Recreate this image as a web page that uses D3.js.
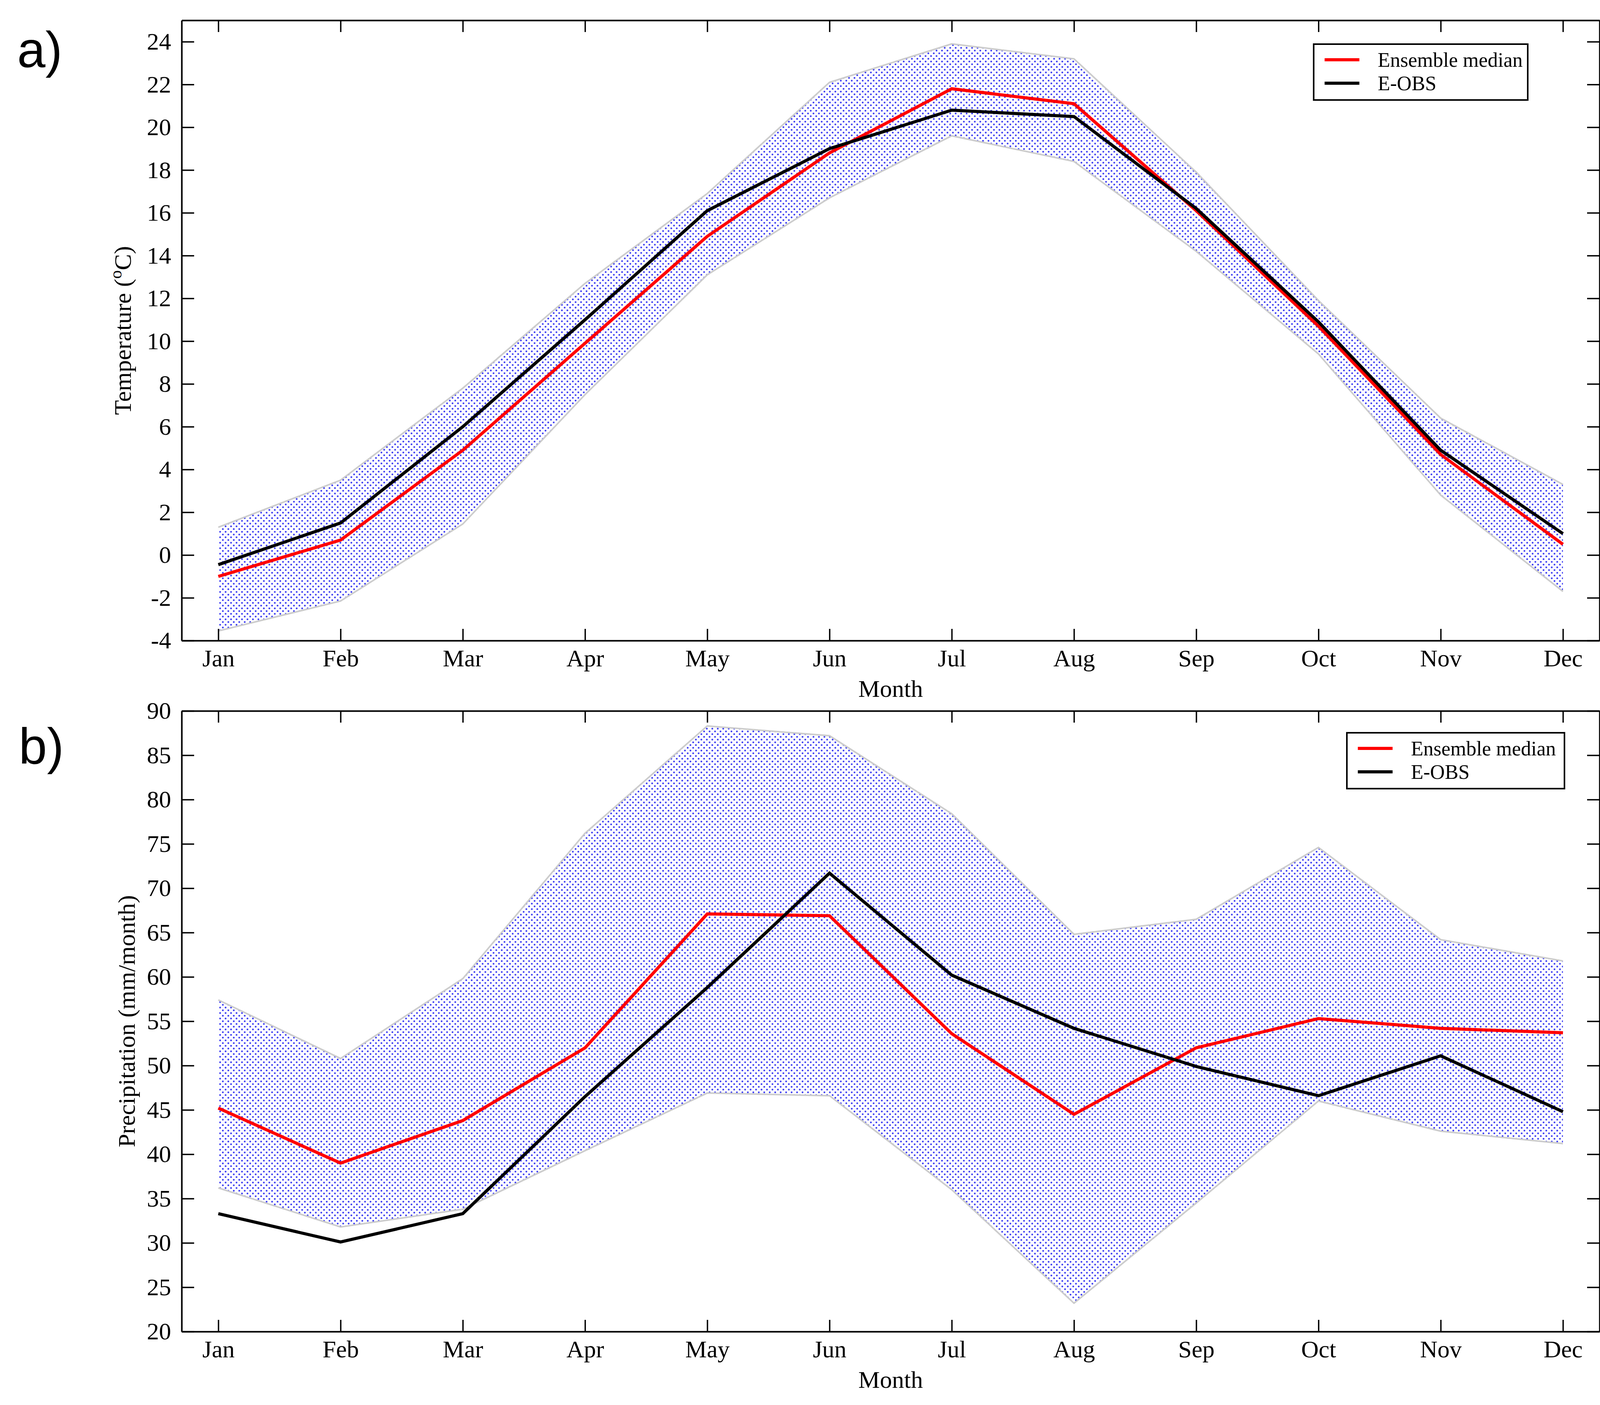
<!DOCTYPE html>
<html>
<head>
<meta charset="utf-8">
<script src="https://cdn.jsdelivr.net/npm/d3@7"></script>
<style>
    html, body { margin: 0; padding: 0; background: #ffffff; }
    svg { display: block; }
</style>
</head>
<body>
<svg id="chart" width="4148" height="3597"></svg>
<script>
// month categories
const months = ["Jan", "Feb", "Mar", "Apr", "May", "Jun", "Jul", "Aug", "Sep", "Oct", "Nov", "Dec"];

// a) temperature (oC)
const tempMedian = [-1.0, 0.7, 4.9, 9.9, 14.9, 18.8, 21.8, 21.1, 16.1, 10.7, 4.7, 0.5];
const tempEobs = [-0.45, 1.5, 6.0, 11.0, 16.1, 19.0, 20.8, 20.5, 16.2, 10.9, 4.9, 1.0];
const tempUpper = [1.3, 3.5, 7.8, 12.7, 16.9, 22.1, 23.9, 23.2, 17.9, 11.9, 6.4, 3.3];
const tempLower = [-3.55, -2.15, 1.45, 7.5, 13.1, 16.7, 19.6, 18.4, 14.2, 9.4, 2.8, -1.7];
const tempTicks = [-4, -2, 0, 2, 4, 6, 8, 10, 12, 14, 16, 18, 20, 22, 24];

// b) precipitation (mm/month)
const precMedian = [45.2, 39.0, 43.8, 52.0, 67.1, 66.9, 53.6, 44.5, 52.0, 55.3, 54.2, 53.7];
const precEobs = [33.3, 30.1, 33.3, 46.5, 58.8, 71.7, 60.2, 54.2, 49.9, 46.6, 51.1, 44.8];
const precUpper = [57.4, 50.8, 59.8, 76.2, 88.3, 87.2, 78.4, 64.8, 66.5, 74.6, 64.2, 61.8];
const precLower = [36.2, 31.8, 33.8, 40.4, 46.9, 46.6, 36.0, 23.2, 34.5, 46.0, 42.6, 41.2];
const precTicks = [20, 25, 30, 35, 40, 45, 50, 55, 60, 65, 70, 75, 80, 85, 90];

const seriesNames = ["Ensemble median", "E-OBS"];
const seriesColors = ["#ff0000", "#000000"];

const serif = "'Liberation Serif', 'Times New Roman', serif";
const sans = "'Liberation Sans', Arial, sans-serif";
const dotColor = "#3a3af2";
const edgeColor = "#cccccc";

const svg = d3.select("#chart");
const defs = svg.append("defs");

// dotted fill of the ensemble spread
const pattern = defs.append("pattern")
    .attr("id", "dots")
    .attr("width", 14)
    .attr("height", 14)
    .attr("patternUnits", "userSpaceOnUse");
pattern.selectAll("circle")
    .data([[3.5, 3.5], [10.5, 10.5]])
    .join("circle")
    .attr("cx", d => d[0])
    .attr("cy", d => d[1])
    .attr("r", 2.3)
    .attr("fill", dotColor);

const plotLeft = 465;
const plotRight = 4095;

const x = d3.scaleLinear()
    .domain([0.7, 12.3])
    .range([plotLeft, plotRight]);

function styleAxis(g) {
    g.attr("font-family", serif).attr("font-size", 62);
    g.selectAll("text").attr("fill", "#000");
    g.select(".domain").attr("stroke", "#000").attr("stroke-width", 4);
    g.selectAll(".tick line").attr("stroke", "#000").attr("stroke-width", 3.5);
}

function drawPanel(cfg) {
    const y = d3.scaleLinear()
        .domain(cfg.domain)
        .range([cfg.bottom, cfg.top]);
    const g = svg.append("g");

    // spread band
    const area = d3.area()
        .x((_d, i) => x(i + 1))
        .y0(d => y(d[0]))
        .y1(d => y(d[1]));
    const bandData = cfg.lower.map((v, i) => [v, cfg.upper[i]]);
    g.append("path")
        .datum(bandData)
        .attr("d", area)
        .attr("fill", "url(#dots)");

    const line = d3.line()
        .x((_d, i) => x(i + 1))
        .y(d => y(d));
    [cfg.upper, cfg.lower].forEach(edge => {
        g.append("path")
            .datum(edge)
            .attr("d", line)
            .attr("fill", "none")
            .attr("stroke", edgeColor)
            .attr("stroke-width", 4);
    });

    // median and observations
    [cfg.median, cfg.eobs].forEach((values, i) => {
        g.append("path")
            .datum(values)
            .attr("d", line)
            .attr("fill", "none")
            .attr("stroke", seriesColors[i])
            .attr("stroke-width", 8)
            .attr("stroke-linejoin", "miter");
    });

    // frame with inward ticks on all sides
    const monthTicks = months.map((_m, i) => i + 1);
    g.append("g")
        .attr("transform", `translate(0,${cfg.bottom})`)
        .call(d3.axisBottom(x).tickValues(monthTicks).tickFormat(d => months[d - 1])
            .tickSizeInner(-30).tickSizeOuter(0).tickPadding(22))
        .call(styleAxis);
    g.append("g")
        .attr("transform", `translate(0,${cfg.top})`)
        .call(d3.axisTop(x).tickValues(monthTicks).tickFormat("")
            .tickSizeInner(-30).tickSizeOuter(0))
        .call(styleAxis);
    g.append("g")
        .attr("transform", `translate(${plotLeft},0)`)
        .call(d3.axisLeft(y).tickValues(cfg.ticks).tickFormat(d => String(d))
            .tickSizeInner(-32).tickSizeOuter(0).tickPadding(27))
        .call(styleAxis);
    g.append("g")
        .attr("transform", `translate(${plotRight},0)`)
        .call(d3.axisRight(y).tickValues(cfg.ticks).tickFormat("")
            .tickSizeInner(-32).tickSizeOuter(0))
        .call(styleAxis);

    // axis titles
    g.append("text")
        .attr("x", (plotLeft + plotRight) / 2)
        .attr("y", cfg.bottom + 144)
        .attr("text-anchor", "middle")
        .attr("font-family", serif)
        .attr("font-size", 62)
        .text("Month");

    const yTitle = g.append("text")
        .attr("transform", `translate(${cfg.yTitleX},${(cfg.top + cfg.bottom) / 2}) rotate(-90)`)
        .attr("text-anchor", "middle")
        .attr("font-family", serif)
        .attr("font-size", 62);
    cfg.yTitle.forEach(part => {
        const t = yTitle.append("tspan").text(part.text);
        if (part.sup) {
            t.attr("baseline-shift", "super").attr("font-size", 44);
        }
    });

    // panel letter
    g.append("text")
        .attr("x", cfg.letterX)
        .attr("y", cfg.letterY)
        .attr("font-family", sans)
        .attr("font-size", 130)
        .text(cfg.letter);

    // legend
    const legend = g.append("g")
        .attr("transform", `translate(${cfg.legendX},${cfg.legendY})`);
    legend.append("rect")
        .attr("width", cfg.legendW)
        .attr("height", 143)
        .attr("fill", "#fff")
        .attr("stroke", "#000")
        .attr("stroke-width", 4);
    const rows = legend.selectAll("g.row")
        .data(seriesNames)
        .join("g")
        .attr("class", "row")
        .attr("transform", (_d, i) => `translate(0,${40 + i * 60})`);
    rows.append("line")
        .attr("x1", 28)
        .attr("x2", 117)
        .attr("stroke", (_d, i) => seriesColors[i])
        .attr("stroke-width", 8);
    rows.append("text")
        .attr("x", 164)
        .attr("y", 18)
        .attr("font-family", serif)
        .attr("font-size", 52)
        .text(d => d);
}

drawPanel({
    domain: [-4, 25],
    ticks: tempTicks,
    top: 52,
    bottom: 1640,
    median: tempMedian,
    eobs: tempEobs,
    upper: tempUpper,
    lower: tempLower,
    yTitleX: 335,
    yTitle: [{ text: "Temperature (" }, { text: "o", sup: true }, { text: "C)" }],
    letter: "a)",
    letterX: 44,
    letterY: 172,
    legendX: 3363,
    legendY: 113,
    legendW: 548
});

drawPanel({
    domain: [20, 90],
    ticks: precTicks,
    top: 1820,
    bottom: 3409,
    median: precMedian,
    eobs: precEobs,
    upper: precUpper,
    lower: precLower,
    yTitleX: 345,
    yTitle: [{ text: "Precipitation (mm/month)" }],
    letter: "b)",
    letterX: 48,
    letterY: 1955,
    legendX: 3448,
    legendY: 1876,
    legendW: 557
});
</script>
</body>
</html>
